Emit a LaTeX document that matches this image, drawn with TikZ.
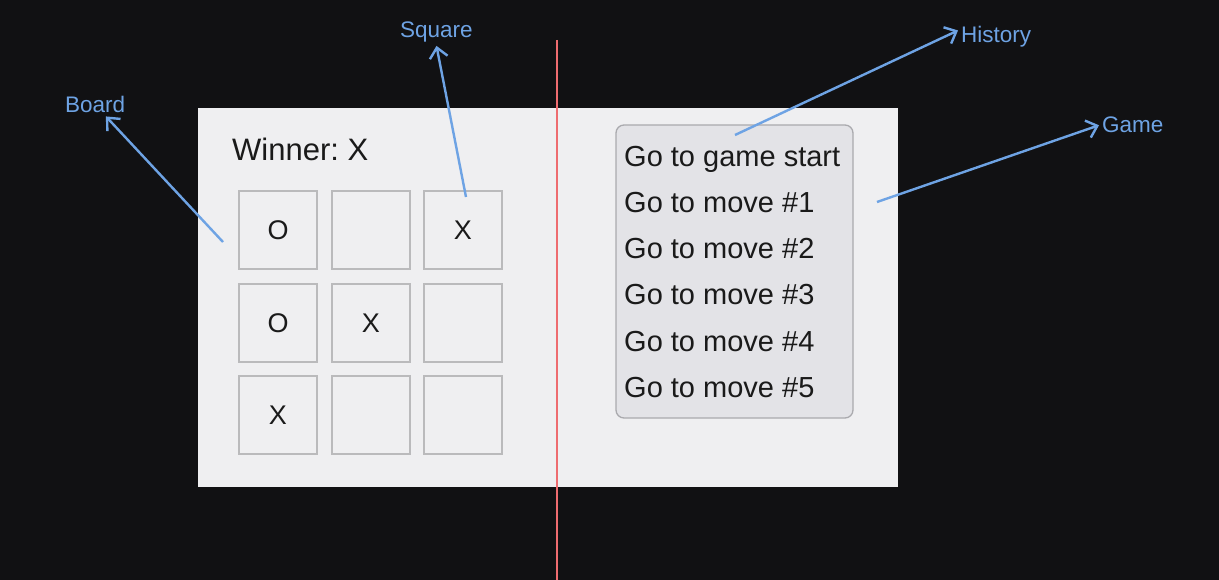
\documentclass[tikz,border=0pt]{standalone}
\usepackage{fontspec}
\setmainfont{Liberation Sans}
\usetikzlibrary{positioning,arrows.meta}
\definecolor{BgDark}{RGB}{17,17,19}
\definecolor{PanelGray}{RGB}{239,239,241}
\definecolor{CellLine}{RGB}{186,186,188}
\definecolor{HistFill}{RGB}{227,227,231}
\definecolor{HistLine}{RGB}{170,170,174}
\definecolor{NoteBlue}{RGB}{110,163,228}
\definecolor{CutRed}{RGB}{238,108,112}
\definecolor{InkBlack}{RGB}{26,26,26}
\frenchspacing
\tikzset{
    note/.style={text=NoteBlue,font=\fontsize{22.5}{26}\selectfont,inner sep=3pt,anchor=base west},
    pointer/.style={line width=2.4pt,NoteBlue,-{Straight Barb[length=10pt,width=18pt]}},
    cellbox/.style={draw=CellLine,line width=1.5pt,fill=PanelGray,minimum size=78pt,inner sep=0pt,font=\fontsize{27}{30}\selectfont,text=InkBlack},
    moveitem/.style={anchor=base west,font=\fontsize{29}{34}\selectfont,text=InkBlack,inner sep=0pt}
}

\begin{document}
\begin{tikzpicture}[x=1pt,y=-1pt]
		% background and page
		\fill[BgDark] (0,0) rectangle (1219,580);
		\useasboundingbox (0,0) rectangle (1219,580);
		\fill[PanelGray] (198,108) rectangle (898,487);
		% board side
		\node[moveitem,font=\fontsize{31}{36}\selectfont] (winner) at (232,161) {Winner: X};
		\node[cellbox] (sq11) at (278,230) {O};
		\node[cellbox] (sq12) at (371,230) {};
		\node[cellbox] (sq13) at (463,230) {X};
		\node[cellbox] (sq21) at (278,323) {O};
		\node[cellbox] (sq22) at (371,323) {X};
		\node[cellbox] (sq23) at (463,323) {};
		\node[cellbox] (sq31) at (278,415) {X};
		\node[cellbox] (sq32) at (371,415) {};
		\node[cellbox] (sq33) at (463,415) {};
		% history list
		\draw[HistLine,fill=HistFill,line width=1.3pt,rounded corners=8pt] (616,125) rectangle (853,418);
		\node[moveitem] (move0) at (624,167) {Go to game start};
		\node[moveitem] (move1) at (624,213) {Go to move \#1};
		\node[moveitem] (move2) at (624,259) {Go to move \#2};
		\node[moveitem] (move3) at (624,305) {Go to move \#3};
		\node[moveitem] (move4) at (624,351) {Go to move \#4};
		\node[moveitem] (move5) at (624,397) {Go to move \#5};
		% split line
		\draw[CutRed,line width=2pt] (557,40) -- (557,580);
		% labels
		\node[note] (board) at (62,113) {Board};
		\node[note] (square) at (397,38) {Square};
		\node[note] (history) at (958,43) {History};
		\node[note] (game) at (1099,133) {Game};
		\coordinate (boardtail) at (223,242);
		\coordinate (squaretail) at (466,197);
		\coordinate (historytail) at (735,135);
		\coordinate (gametail) at (877,202);
		\draw[pointer] (boardtail) -- (board);
		\draw[pointer] (squaretail) -- (square.south);
		\draw[pointer] (historytail) -- (history.170);
		\draw[pointer] (gametail) -- (game.west);
\end{tikzpicture}
\end{document}
